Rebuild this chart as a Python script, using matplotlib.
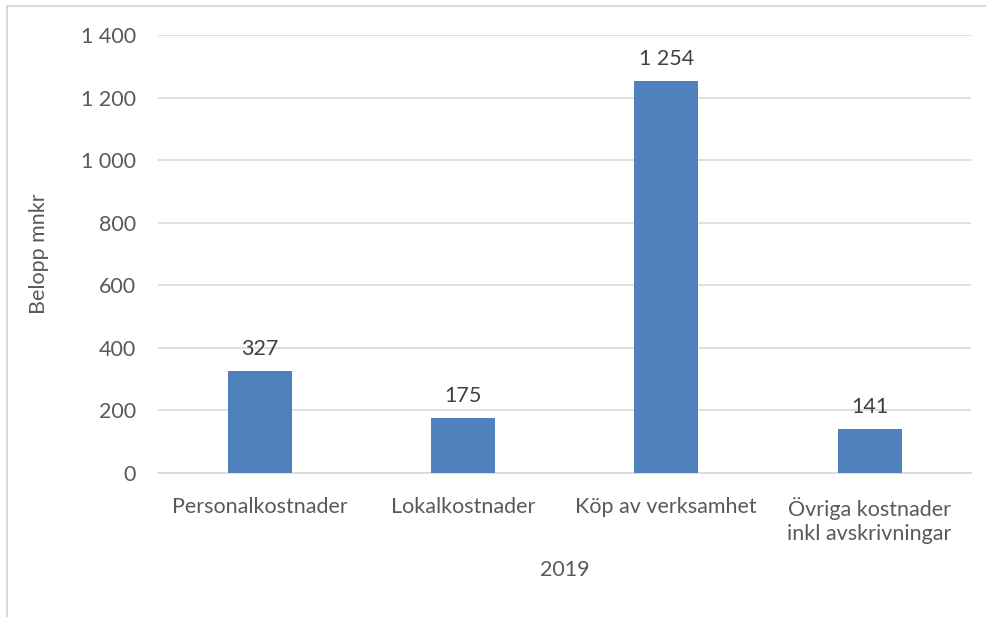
import matplotlib.pyplot as plt
from matplotlib.patches import Rectangle

categories = ["Personalkostnader", "Lokalkostnader", "Köp av verksamhet",
              "Övriga kostnader\ninkl avskrivningar"]
values = [327, 175, 1254, 141]
yticks = [0, 200, 400, 600, 800, 1000, 1200, 1400]


def fmt(v):
    return f"{v:,}".replace(",", " ")


def main():
    plt.rcParams['font.family'] = ['Lato', 'DejaVu Sans']
    text_color = "#595959"
    fs = 15.5

    fig = plt.figure(figsize=(9.87, 6.17), dpi=100)
    ax = fig.add_axes([0.160, 0.2334, 0.824, 0.7099])

    x = list(range(len(categories)))
    bars = ax.bar(x, values, width=0.315, color="#4F81BD", zorder=3)
    for b, v in zip(bars, values):
        ax.text(b.get_x() + b.get_width() / 2, v + 38, fmt(v),
                ha="center", va="bottom", fontsize=fs, color="#404040")

    ax.set_xlim(-0.5, len(categories) - 0.5)
    ax.set_ylim(0, 1400)
    ax.set_yticks(yticks)
    ax.set_yticklabels([fmt(t) for t in yticks], fontsize=fs, color=text_color)
    ax.set_xticks(x)
    ax.set_xticklabels(categories, fontsize=fs, color=text_color, linespacing=1.25)
    ax.tick_params(axis="both", length=0)
    ax.tick_params(axis="y", pad=16)
    ax.tick_params(axis="x", pad=17)

    ax.yaxis.grid(True, color="#D9D9D9", linewidth=1.2, zorder=0)
    for s in ["top", "right", "left"]:
        ax.spines[s].set_visible(False)
    ax.spines["bottom"].set_color("#D9D9D9")
    ax.spines["bottom"].set_linewidth(1.2)

    ax.set_ylabel("Belopp mnkr", fontsize=fs, color=text_color, labelpad=23)
    ax.set_xlabel("2019", fontsize=fs, color=text_color, labelpad=12)

    fig.patches.append(Rectangle((7 / 987, -0.1), 1.2, 1 - 6 / 617 + 0.1,
                                 transform=fig.transFigure, fill=False,
                                 edgecolor="#D9D9D9", linewidth=1.5))

    fig.savefig("out.png", dpi=100)


if __name__ == "__main__":
    main()
